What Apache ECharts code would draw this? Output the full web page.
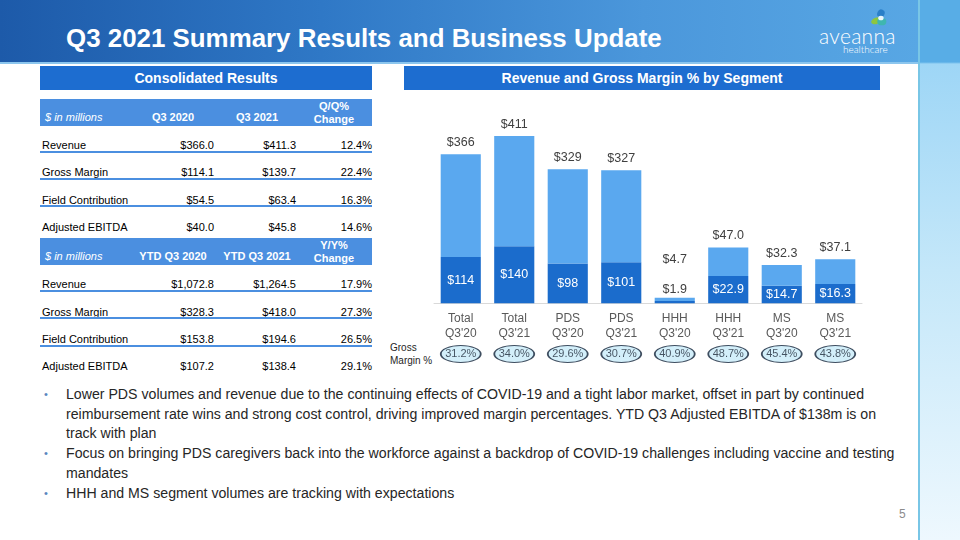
<!DOCTYPE html>
<html><head><meta charset="utf-8">
<script src="https://cdn.jsdelivr.net/npm/echarts@6/dist/echarts.min.js"></script>
<style>
html,body{margin:0;padding:0;}
body{width:960px;height:540px;position:relative;overflow:hidden;background:#fff;font-family:"Liberation Sans",Arial,sans-serif;}
.abs{position:absolute;}
#hdr{left:0;top:0;width:918px;height:62px;background:linear-gradient(90deg,#1d5aa9 0%,#2f78c6 35%,#4b97db 70%,#58a7e4 100%);}
#hdrline{left:0;top:62px;width:918px;height:2px;background:#8cc6ee;}
#strip{left:918px;top:0;width:42px;height:540px;background:linear-gradient(180deg,#58ade6 0px,#58ade6 62px,#9ed6f6 64px,#c4e7f9 50%,#eef8fe 100%);border-left:2px solid #79c6e6;box-sizing:border-box;}
#title{left:66px;top:24px;color:#fff;font-weight:bold;font-size:25.9px;white-space:nowrap;}
.box{background:#1d6dd0;color:#fff;font-weight:bold;font-size:14px;text-align:center;line-height:24px;height:24px;}
.thead{left:40px;width:332px;background:#4b8fe0;color:#fff;font-size:11px;font-weight:bold;}
.cell{position:absolute;white-space:nowrap;font-size:11px;color:#000;}
.r{text-align:right;}
.uline{position:absolute;left:40px;width:332px;height:1.5px;background:#4b8fe0;}
#bul{left:44px;top:385px;width:870px;font-size:14.15px;color:#262626;line-height:19.5px;}
#bul div{position:relative;padding-left:22px;margin-bottom:0.5px;white-space:nowrap;}
#bul div:before{content:"\2022";position:absolute;left:0;top:0;color:#5a86c0;font-size:11px;}
</style></head>
<body>
<div id="hdr" class="abs"></div>
<div id="hdrline" class="abs"></div>
<div id="strip" class="abs"></div>
<div id="title" class="abs">Q3 2021 Summary Results and Business Update</div>
<svg class="abs" style="left:870px;top:8px" width="20" height="20" viewBox="0 0 22 22">
<ellipse cx="12" cy="6" rx="4" ry="4.5" fill="#2a7fc8" transform="rotate(25 12 6)"/>
<ellipse cx="7" cy="14" rx="6" ry="3.5" fill="#8dc63f" transform="rotate(-20 7 14)"/>
<ellipse cx="13" cy="15" rx="5" ry="4" fill="#3fb6b0"/>
<ellipse cx="12" cy="11" rx="3" ry="2.5" fill="#e8f6fb"/>
</svg>
<div class="abs" style="left:819px;top:23px;color:#fff;font-family:Lato,'Open Sans',sans-serif;font-weight:300;font-size:21px;letter-spacing:0.3px">aveanna</div>
<div class="abs" style="left:843px;top:43px;color:#fff;font-family:Lato,'Open Sans',sans-serif;font-weight:300;font-size:10px">healthcare</div>

<div class="abs box" style="left:40px;top:66px;width:332px;">Consolidated Results</div>
<div class="abs box" style="left:404px;top:66px;width:476px;">Revenue and Gross Margin % by Segment</div>

<div id="tables"></div>

<div class="abs" style="left:390px;top:341px;font-size:10px;color:#262626;line-height:13px;">Gross<br>Margin %</div>

<div id="chart" class="abs" style="left:380px;top:92px;width:520px;height:290px;"></div>

<div id="bul" class="abs">
<div>Lower PDS volumes and revenue due to the continuing effects of COVID-19 and a tight labor market, offset in part by continued<br>reimbursement rate wins and strong cost control, driving improved margin percentages. YTD Q3 Adjusted EBITDA of $138m is on<br>track with plan</div>
<div>Focus on bringing PDS caregivers back into the workforce against a backdrop of COVID-19 challenges including vaccine and testing<br>mandates</div>
<div>HHH and MS segment volumes are tracking with expectations</div>
</div>
<div class="abs" style="left:899px;top:507px;font-size:12px;color:#8c8c8c;">5</div>

<script>
// ---- Table data ----
const qtrHeaders = ["Q3 2020", "Q3 2021", "Q/Q%<br>Change"];
const ytdHeaders = ["YTD Q3 2020", "YTD Q3 2021", "Y/Y%<br>Change"];
const rowLabels = ["Revenue", "Gross Margin", "Field Contribution", "Adjusted EBITDA"];
const qtr2020 = ["$366.0", "$114.1", "$54.5", "$40.0"];
const qtr2021 = ["$411.3", "$139.7", "$63.4", "$45.8"];
const qtrChange = ["12.4%", "22.4%", "16.3%", "14.6%"];
const ytd2020 = ["$1,072.8", "$328.3", "$153.8", "$107.2"];
const ytd2021 = ["$1,264.5", "$418.0", "$194.6", "$138.4"];
const ytdChange = ["17.9%", "27.3%", "26.5%", "29.1%"];

// ---- Chart data ----
const categories = ["Total\nQ3'20", "Total\nQ3'21", "PDS\nQ3'20", "PDS\nQ3'21", "HHH\nQ3'20", "HHH\nQ3'21", "MS\nQ3'20", "MS\nQ3'21"];
const revenue = [366, 411, 329, 327, 4.7, 47.0, 32.3, 37.1];
const revenueLabels = ["$366", "$411", "$329", "$327", "$4.7", "$47.0", "$32.3", "$37.1"];
const grossMargin = [114, 140, 98, 101, 1.9, 22.9, 14.7, 16.3];
const grossMarginLabels = ["$114", "$140", "$98", "$101", "$1.9", "$22.9", "$14.7", "$16.3"];
const grossMarginPct = ["31.2%", "34.0%", "29.6%", "30.7%", "40.9%", "48.7%", "45.4%", "43.8%"];

// build tables
function buildTable(top, headers, c1, c2, c3, rowTops, lineTops) {
  let h = '';
  h += `<div class="abs thead" style="top:${top}px;height:27px;"></div>`;
  h += `<div class="cell" style="left:45px;top:${top+12}px;color:#fff;font-style:italic;">$ in millions</div>`;
  const centers = [173, 257, 334];
  headers.forEach((t, i) => {
    const two = t.indexOf('<br>') >= 0;
    h += `<div class="cell" style="left:${centers[i]-50}px;width:100px;text-align:center;top:${two ? top+1 : top+12}px;color:#fff;font-weight:bold;line-height:13px;">${t}</div>`;
  });
  rowLabels.forEach((lab, i) => {
    const y = rowTops[i];
    h += `<div class="cell" style="left:42px;top:${y}px;">${lab}</div>`;
    h += `<div class="cell r" style="left:114px;width:100px;top:${y}px;">${c1[i]}</div>`;
    h += `<div class="cell r" style="left:196px;width:100px;top:${y}px;">${c2[i]}</div>`;
    h += `<div class="cell r" style="left:272px;width:100px;top:${y}px;">${c3[i]}</div>`;
  });
  lineTops.forEach(y => { h += `<div class="uline" style="top:${y}px;"></div>`; });
  return h;
}
document.getElementById('tables').innerHTML =
  buildTable(99, qtrHeaders, qtr2020, qtr2021, qtrChange, [139, 166, 194, 221], [151, 178, 205]) +
  buildTable(238, ytdHeaders, ytd2020, ytd2021, ytdChange, [278, 306, 333, 360], [290, 317, 345]);

const chart = echarts.init(document.getElementById('chart'), null, {renderer: 'canvas'});
const DARK = '#1b6ccc', LIGHT = '#5aa8ef';
// The source slide draws the large segments (Total, PDS) and the small ones (HHH, MS)
// against two different value scales.
const onLargeScale = revenue.map(v => v > 100);
const pick = (arr, large) => arr.map((v, i) => onLargeScale[i] === large ? v : '-');
const remainder = revenue.map((v, i) => +(v - grossMargin[i]).toFixed(2));

function gmSeries(large) {
  return {
    type: 'bar', stack: large ? 'big' : 'small', yAxisIndex: large ? 0 : 1,
    barCategoryGap: '25%', barGap: '-100%',
    itemStyle: {color: DARK},
    data: pick(grossMargin, large).map(v => (v === '-' ? '-' : {
      value: v,
      label: v < 5 ? {position: 'top', color: '#404040', distance: 5} : {}
    })),
    label: {show: true, position: 'inside', color: '#fff', fontSize: 12.5,
            formatter: p => grossMarginLabels[p.dataIndex]}
  };
}
function restSeries(large) {
  return {
    type: 'bar', stack: large ? 'big' : 'small', yAxisIndex: large ? 0 : 1,
    barCategoryGap: '25%', barGap: '-100%',
    itemStyle: {color: LIGHT},
    data: pick(remainder, large).map((v, i) => (v === '-' ? '-' : {
      value: v,
      label: grossMargin[i] < 5 ? {offset: [0, -27]} : {}
    })),
    label: {show: true, position: 'top', color: '#404040', fontSize: 12.5, distance: 5,
            formatter: p => revenueLabels[p.dataIndex]}
  };
}

chart.setOption({
  animation: false,
  textStyle: {fontFamily: 'Liberation Sans, Arial, sans-serif'},
  grid: [
    {left: 54, top: 28.1, width: 428, height: 183.2},
    {left: 54, top: 252, width: 428, height: 20}
  ],
  xAxis: [
    {type: 'category', gridIndex: 0, data: categories,
     axisLine: {lineStyle: {color: '#d9d9d9', width: 1}}, axisTick: {show: false},
     axisLabel: {color: '#595959', fontSize: 12, lineHeight: 15, margin: 8, interval: 0}},
    {type: 'category', gridIndex: 1, data: categories, show: false}
  ],
  yAxis: [
    {type: 'value', gridIndex: 0, min: 0, max: 450, show: false},
    {type: 'value', gridIndex: 0, min: 0, max: 154, show: false},
    {type: 'value', gridIndex: 1, min: -1, max: 1, show: false}
  ],
  series: [
    gmSeries(true), restSeries(true), gmSeries(false), restSeries(false),
    {type: 'scatter', xAxisIndex: 1, yAxisIndex: 2,
     data: grossMarginPct.map(() => 0),
     symbol: 'circle', symbolSize: [40, 17],
     itemStyle: {color: '#c8ebf9', borderColor: '#14243a', borderWidth: 1.2},
     label: {show: true, position: 'inside', color: '#1f2a3a', fontSize: 11,
             formatter: p => grossMarginPct[p.dataIndex]}}
  ]
});
</script>
</body></html>
